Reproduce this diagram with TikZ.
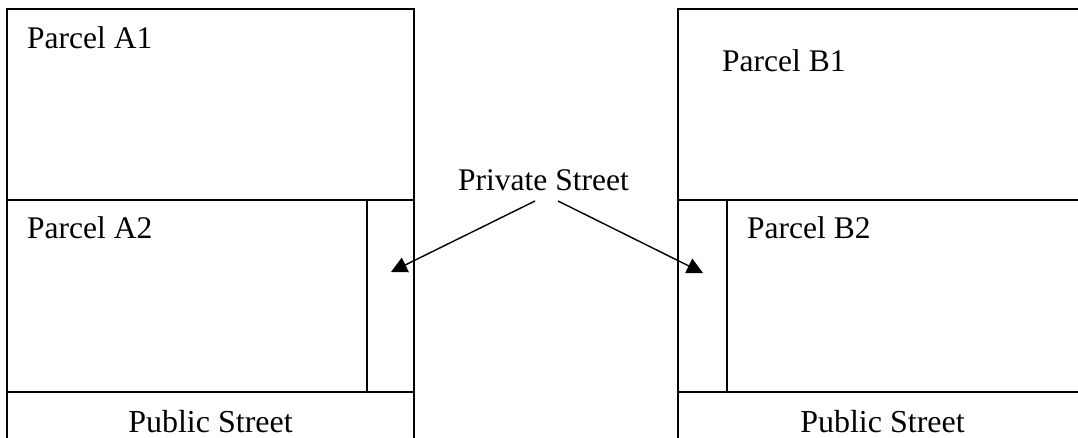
\documentclass[tikz,border=0pt]{standalone}
\usepackage{fontspec}
\setmainfont{Liberation Serif}
\usetikzlibrary{arrows.meta}
\begin{document}
\begin{tikzpicture}[x=1pt,y=-1pt,
  lot/.style={draw=black,line width=1.6pt},
  lbl/.style={inner sep=0pt,anchor=base west,font=\fontsize{31.5}{36}\selectfont},
  ptr/.style={line width=1.4pt,-{Triangle[length=16pt,width=16pt]}}]
\useasboundingbox (0,0) rectangle (1078,438);
\clip (0,0) rectangle (1078,438);
% left block
\draw[lot] (7,450) -- (7,9) -- (414,9) -- (414,450);
\draw[lot] (7,200) -- (414,200);
\draw[lot] (7,392) -- (414,392);
\draw[lot] (367,200) -- (367,392);
% right block
\draw[lot] (1084,9) -- (678,9) -- (678,450);
\draw[lot] (678,200) -- (1084,200);
\draw[lot] (678,392) -- (1084,392);
\draw[lot] (727,200) -- (727,392);
% labels
\node[lbl] (a1) at (27,49) {Parcel A1};
\node[lbl] (a2) at (27,239) {Parcel A2};
\node[lbl] (b1) at (722,72) {Parcel B1};
\node[lbl] (b2) at (747,239) {Parcel B2};
\node[lbl] (ps) at (458,191) {Private Street};
\node[lbl,anchor=base,font=\fontsize{32}{36}\selectfont] (pub1) at (210.5,432) {Public Street};
\node[lbl,anchor=base,font=\fontsize{32}{36}\selectfont] (pub2) at (882.5,432) {Public Street};
% arrows
\coordinate (s1) at (535,201);
\coordinate (s2) at (558,201);
\coordinate (t1) at (391,272);
\coordinate (t2) at (703,273);
\draw[ptr] (s1) -- (t1);
\draw[ptr] (s2) -- (t2);
\end{tikzpicture}
\end{document}
